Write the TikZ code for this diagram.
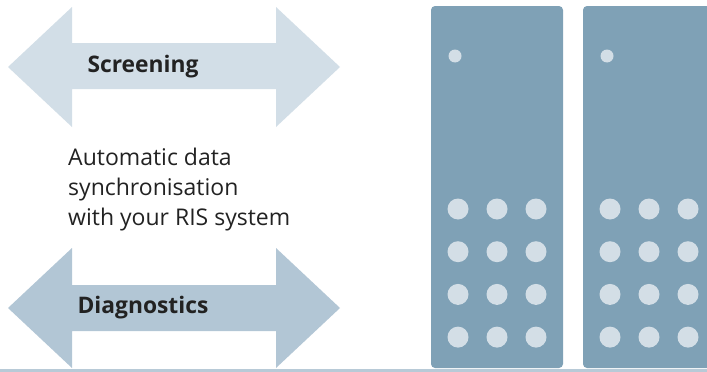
\documentclass[tikz,border=0pt]{standalone}
\usepackage{fontspec}
\setmainfont{Open Sans}
\usepackage{tikz}
\usetikzlibrary{positioning}
\definecolor{ArrowLight}{HTML}{D2DEE7}
\definecolor{ArrowDark}{HTML}{B2C6D5}
\definecolor{RackBlue}{HTML}{7FA1B6}
\definecolor{DotGrey}{HTML}{D3DEE6}
\definecolor{BaseLine}{HTML}{B8CAD7}
\definecolor{TextDark}{HTML}{222222}

\begin{document}
\begin{tikzpicture}[x=1pt, y=-1pt,
    arrowshape/.style={draw=none},
    label/.style={inner sep=0pt, text=TextDark, font=\fontsize{22.8}{28}\selectfont\bfseries},
    note/.style={inner sep=0pt, text=TextDark, align=left, font=\fontsize{23}{30}\selectfont},
    rack/.style={fill=RackBlue, rounded corners=4pt},
    led/.style={fill=DotGrey}
]
    \useasboundingbox (0,0) rectangle (707,372);
    \clip (0,0) rectangle (707,372);

    % Arrow 1 - Screening
    \fill[arrowshape, ArrowLight] (8,67) -- (72,7) -- (72,43) -- (276,43) -- (276,7) -- (340,67)
        -- (276,127) -- (276,89) -- (72,89) -- (72,127) -- cycle;
    \node[label] (screening) at (143,67) {Screening};

    % Middle text
    \node[note, anchor=west] (sync) at (68,190) {Automatic data\\synchronisation\\with your RIS system};

    % Arrow 2 - Diagnostics
    \fill[arrowshape, ArrowDark] (8,308) -- (72,248) -- (72,285) -- (276,285) -- (276,248) -- (340,308)
        -- (276,368) -- (276,331) -- (72,331) -- (72,368) -- cycle;
    \node[label] (diagnostics) at (143,308) {Diagnostics};

    % Racks
    \foreach \rx/\rname in {431/rackA, 583/rackB} {
        \fill[rack] (\rx,6) rectangle ++(132,362);
        \fill[led] (\rx+24,56) circle (6.5);
        \foreach \col in {0,1,2}
            \foreach \row in {0,1,2,3}
                \fill[led] (\rx+27+39*\col,209+42.7*\row) circle (10.5);
    }

    % Base line
    \draw[BaseLine, line width=3pt] (0,370.5) -- (707,370.5);
\end{tikzpicture}
\end{document}
